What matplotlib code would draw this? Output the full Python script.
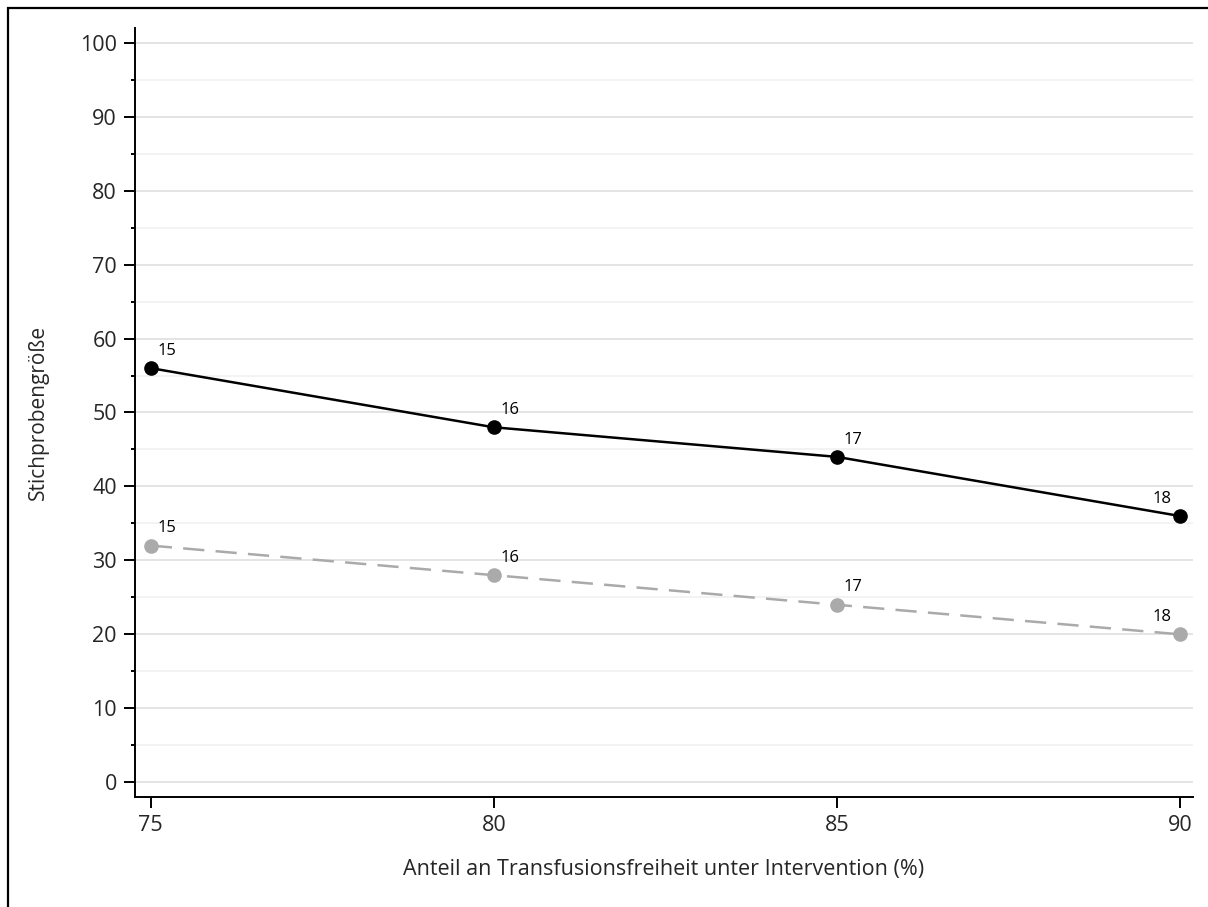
import matplotlib.pyplot as plt
from matplotlib.patches import Rectangle
from matplotlib.ticker import MultipleLocator

plt.rcParams['font.family'] = ['Open Sans', 'DejaVu Sans']

# data
anteil = [75, 80, 85, 90]
stichprobe_a = [56, 48, 44, 36]
stichprobe_b = [32, 28, 24, 20]
labels_a = ['15', '16', '17', '18']
labels_b = ['15', '16', '17', '18']
x_ticks = [75, 80, 85, 90]

text_col = '#262626'


def annotate_points(ax, xs, ys, labels):
    for i, (x, y, lab) in enumerate(zip(xs, ys, labels)):
        dx = -18 if i == len(xs) - 1 else 16
        ax.annotate(lab, (x, y), xytext=(dx * 0.72, 12.5), textcoords='offset points',
                    ha='center', va='center', fontsize=12, color='black')


fig = plt.figure(figsize=(12.08, 9.07), dpi=100)
ax = fig.add_axes([135 / 1208, 1 - 797 / 907, (1193 - 135) / 1208, (797 - 28) / 907])

ax.plot(anteil, stichprobe_a, color='black', lw=1.8, marker='o', markersize=9.5, zorder=3)
ax.plot(anteil, stichprobe_b, color='#aaaaaa', lw=1.8, linestyle=(0, (8.5, 4.5)),
        marker='o', markersize=9.5, zorder=3)
annotate_points(ax, anteil, stichprobe_a, labels_a)
annotate_points(ax, anteil, stichprobe_b, labels_b)

ax.set_xlim(74.77, 90.19)
ax.set_ylim(-2, 102)
ax.set_xticks(x_ticks)
ax.yaxis.set_major_locator(MultipleLocator(10))
ax.yaxis.set_minor_locator(MultipleLocator(5))
ax.grid(axis='y', which='major', color='#e2e2e2', lw=1.3, zorder=0)
ax.grid(axis='y', which='minor', color='#f2f2f2', lw=1.3, zorder=0)
ax.set_axisbelow(True)

for side in ['top', 'right']:
    ax.spines[side].set_visible(False)
for side in ['left', 'bottom']:
    ax.spines[side].set_linewidth(1.4)
ax.tick_params(which='major', length=8, width=1.4, labelsize=15.5, labelcolor=text_col, pad=5)
ax.tick_params(axis='y', which='minor', length=3, width=1.4)

ax.set_xlabel('Anteil an Transfusionsfreiheit unter Intervention (%)', fontsize=15.5,
              color=text_col)
ax.set_ylabel('Stichprobengröße', fontsize=15, color=text_col)
ax.xaxis.set_label_coords(0.5, -0.08)
ax.yaxis.set_label_coords(-0.081, 0.5)

# outer frame like in the screenshot
fig.add_artist(Rectangle((8 / 1208, -0.1), 1.2, 1.1 - 8 / 907, transform=fig.transFigure,
                         fill=False, lw=1.6, edgecolor='black'))

fig.savefig('out.png', dpi=100)
